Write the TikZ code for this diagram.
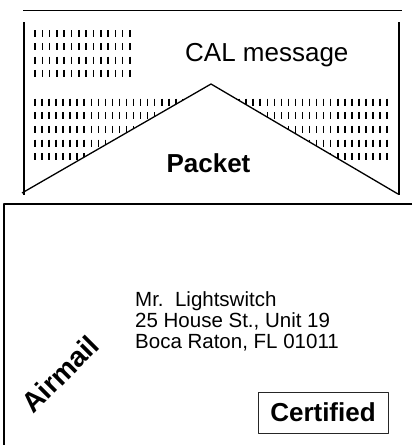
\documentclass[tikz,border=0pt]{standalone}
\usepackage{fontspec}
\setmainfont{Liberation Sans}
\begin{document}
\begin{tikzpicture}[x=1pt,y=-1pt,line join=round,
  rule/.style={line width=1.8pt},
  side/.style={line width=1.3pt},
  tick/.style={line width=1.6pt},
  plain/.style={inner sep=0pt,font=\fontsize{26}{26}\selectfont},
  heavy/.style={inner sep=0pt,font=\fontsize{26}{26}\selectfont\bfseries},
  addr/.style={inner sep=0pt,anchor=base west,font=\fontsize{20.5}{21}\selectfont}]
\useasboundingbox (0,0) rectangle (416,445);

%% ---------------- top: the CAL message wrapped round the packet ----------
\begin{scope}
  %% hatching of short vertical strokes
  \foreach \i in {0,...,13}
    \foreach \j in {0,...,3}
      \draw[tick] ({35+7.3*\i},{30+13.3*\j}) -- ++(0,7);
  \foreach \i in {0,...,50}
    \foreach \j in {0,...,4}
      \draw[tick] ({35+7.04*\i},{98.5+13.7*\j}) -- ++(0,7);
  %% the packet wedge blanks the strokes under it
  \fill[white] (22,193) -- (211,84) -- (398,194) -- cycle;
  \draw[side] (22,193) -- (211,84) -- (398,194);
  %% frame
  \draw[rule] (23,10.5) -- (402,10.5);
  \draw[side] (24,22) -- (24,195);
  \draw[side] (399,22) -- (399,195);
  \node[plain,anchor=base west] (cal) at (185,61) {CAL message};
  \node[heavy,anchor=base] (packet) at (208.5,172) {Packet};
\end{scope}

%% ---------------- bottom: the envelope -----------------------------------
\begin{scope}
  \draw[rule] (412,204) -- (4,204) -- (4,445);
  \node[addr] (name) at (135,306.7) {Mr.\ \ Lightswitch};
  \node[addr] (street) at (135,327.7) {25 House St., Unit 19};
  \node[addr] (city) at (135,348.3) {Boca Raton, FL 01011};
  \node[heavy,font=\fontsize{28}{28}\selectfont\bfseries,rotate=45]
       (airmail) at (60,374) {Airmail};
  \node[heavy,draw=black!85,line width=0.9pt,minimum width=130pt,
        minimum height=41pt] (cert) at (323,412.5) {Certified};
\end{scope}

\end{tikzpicture}
\end{document}
